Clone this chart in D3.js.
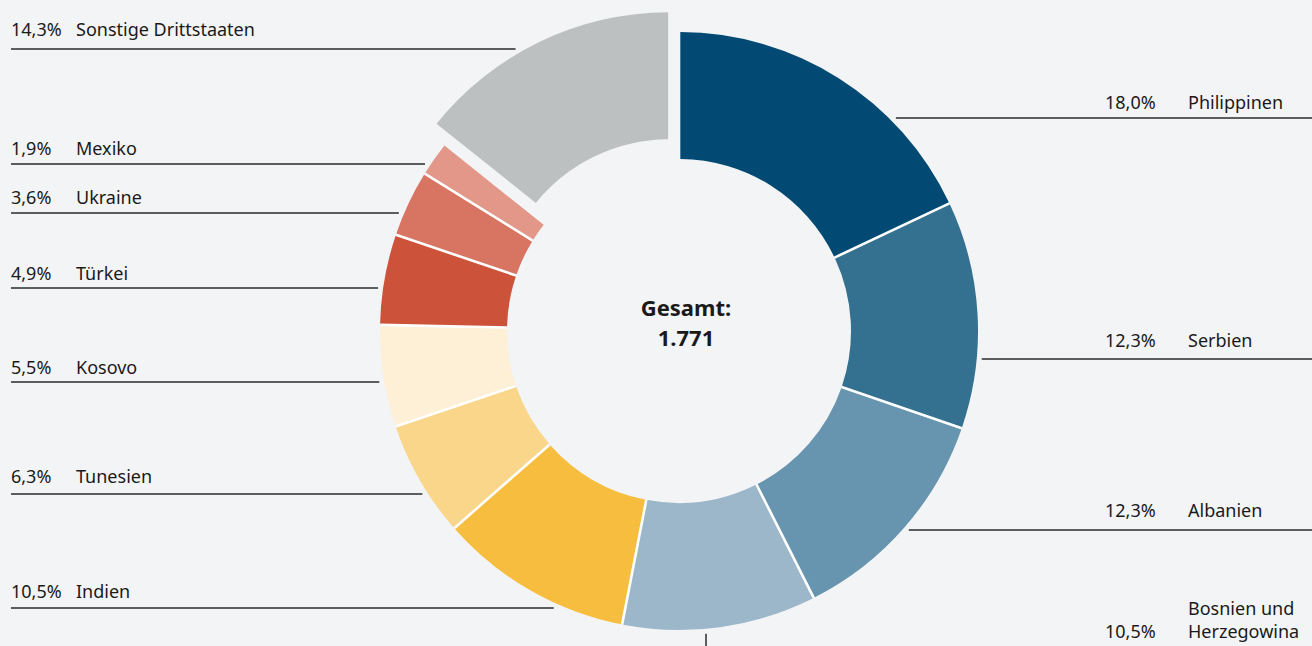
<!DOCTYPE html>
<html>
<head>
<meta charset="utf-8">
<script src="https://cdn.jsdelivr.net/npm/d3@7"></script>
<style>
  body { margin: 0; background: #f3f4f6; }
  svg { display: block; }
  text { font-family: "Noto Sans", sans-serif; fill: #1a1a1a; }
</style>
</head>
<body>
<div class="chart"></div>
<script>
var w = 1312;
var h = 646;

// shares in percent, clockwise from 12 o'clock
var countries = ["Philippinen", "Serbien", "Albanien", "Bosnien und Herzegowina", "Indien",
                 "Tunesien", "Kosovo", "Türkei", "Ukraine", "Mexiko", "Sonstige Drittstaaten"];
var shares = [18.0, 12.3, 12.3, 10.5, 10.5, 6.3, 5.5, 4.9, 3.6, 1.9, 14.3];
var colors = ["#024a74", "#34708f", "#6794ae", "#9bb7c9", "#f6bd3f",
              "#f9d68a", "#fdf0d6", "#cc5339", "#d87462", "#e29788", "#bdc0c1"];
var total = "1.771";

// label layout: side, y of leader line, y of text baseline
var labelSide = ["r", "r", "r", "b", "l", "l", "l", "l", "l", "l", "l"];
var lineY = [118, 359, 530, 0, 608, 494, 382, 288, 213, 164, 49];
var textY = [109, 347, 517, 638, 598, 483, 374, 280, 204, 155, 36];

var cx = 679, cy = 331;
var outerR = 299, innerR = 172;
var explodeIdx = 10, explodeBy = 22;
var gap = 2.6;

var data = countries.map(function(c, i) {
  return { name: c, value: shares[i], color: colors[i], side: labelSide[i], ly: lineY[i], ty: textY[i] };
});

var fmt = function(v) { return d3.format(".1f")(v).replace(".", ",") + "%"; };

var pie = d3.pie().sort(null).value(function(d) { return d.value; });
var arc = d3.arc().innerRadius(innerR).outerRadius(outerR)
  .padRadius(outerR).padAngle(gap / outerR);
var arcs = pie(data);

var svg = d3.select(".chart").append("svg")
  .attr("width", w)
  .attr("height", h);

svg.append("rect").attr("width", w).attr("height", h).attr("fill", "#f3f4f6");

function offsetOf(i, a) {
  if (i !== explodeIdx) return [0, 0];
  var mid = (a.startAngle + a.endAngle) / 2;
  return [explodeBy * Math.sin(mid), -explodeBy * Math.cos(mid)];
}

var g = svg.append("g").attr("transform", "translate(" + cx + "," + cy + ")");

// white band behind the joined slices so the gaps read white
var half = gap / outerR / 2;
g.append("path")
  .attr("d", d3.arc()({
    innerRadius: innerR + 1, outerRadius: outerR - 1,
    startAngle: arcs[0].startAngle + half, endAngle: arcs[explodeIdx - 1].endAngle - half
  }))
  .attr("fill", "#ffffff");

g.selectAll(".slice")
  .data(arcs)
  .enter()
  .append("path")
  .attr("class", "slice")
  .attr("d", arc)
  .attr("transform", function(d, i) {
    var o = offsetOf(i, d);
    return "translate(" + o[0] + "," + o[1] + ")";
  })
  .attr("fill", function(d) { return d.data.color; });

// leader lines end just outside the ring
var lineR = outerR + 5;
var labels = svg.append("g").style("font-size", "18px");

arcs.forEach(function(a, i) {
  var d = a.data;
  var o = offsetOf(i, a);
  var ox = cx + o[0], oy = cy + o[1];
  if (d.side === "l") {
    var dy = d.ly - oy;
    var xe = ox - Math.sqrt(lineR * lineR - dy * dy);
    labels.append("line")
      .attr("x1", 11).attr("x2", xe)
      .attr("y1", d.ly).attr("y2", d.ly)
      .attr("stroke", "#2b2b2b").attr("stroke-width", 1.5);
    labels.append("text").attr("x", 11).attr("y", d.ty).text(fmt(d.value));
    labels.append("text").attr("x", 76).attr("y", d.ty).text(d.name);
  } else if (d.side === "r") {
    var dy2 = d.ly - oy;
    var xs = ox + Math.sqrt(lineR * lineR - dy2 * dy2);
    labels.append("line")
      .attr("x1", xs).attr("x2", w)
      .attr("y1", d.ly).attr("y2", d.ly)
      .attr("stroke", "#2b2b2b").attr("stroke-width", 1.5);
    labels.append("text").attr("x", 1105).attr("y", d.ty).text(fmt(d.value));
    labels.append("text").attr("x", 1188).attr("y", d.ty).text(d.name);
  } else {
    // bottom: vertical leader running off the page
    var lx = 706;
    var dxb = lx - ox;
    var ys = oy + Math.sqrt(lineR * lineR - dxb * dxb);
    labels.append("line")
      .attr("x1", lx).attr("x2", lx)
      .attr("y1", ys).attr("y2", h)
      .attr("stroke", "#2b2b2b").attr("stroke-width", 1.5);
    labels.append("text").attr("x", 1105).attr("y", d.ty).text(fmt(d.value));
    var words = d.name.split(" ");
    labels.append("text").attr("x", 1188).attr("y", d.ty - 23).text(words.slice(0, 2).join(" "));
    labels.append("text").attr("x", 1188).attr("y", d.ty).text(words.slice(2).join(" "));
  }
});

// centre text
svg.append("text")
  .attr("x", 686).attr("y", 316)
  .attr("text-anchor", "middle")
  .style("font-size", "22px").style("font-weight", "bold")
  .text("Gesamt:");
svg.append("text")
  .attr("x", 686).attr("y", 346)
  .attr("text-anchor", "middle")
  .style("font-size", "22px").style("font-weight", "bold")
  .text(total);
</script>
</body>
</html>
